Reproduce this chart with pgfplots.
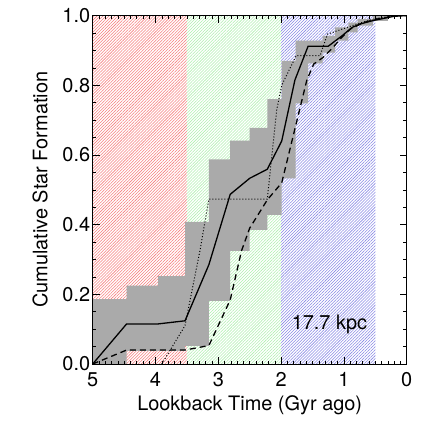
\documentclass[border=0pt]{standalone}
\usepackage{pgfplots}
\pgfplotsset{compat=1.18}
\usepackage{fontspec}
\setmainfont{TeX Gyre Heros}
\usetikzlibrary{patterns.meta}
\definecolor{bandgray}{RGB}{170,170,170}
\definecolor{hred}{RGB}{245,125,125}
\definecolor{hgreen}{RGB}{175,238,175}
\definecolor{hblue}{RGB}{135,135,228}

\begin{document}
\begin{tikzpicture}
\begin{axis}[
  name=ax,
  scale only axis, width=314bp, height=348.4bp,
  xmin=0, xmax=5, ymin=0, ymax=1, x dir=reverse,
  xtick={0,1,2,3,4,5}, ytick={0,0.2,0.4,0.6,0.8,1.0},
  minor x tick num=9, minor y tick num=3,
  tick align=inside, major tick length=7bp, minor tick length=3.5bp,
  tick style={black, line width=0.5pt},
  axis line style={line width=0.8pt},
  font=\fontsize{20}{23}\selectfont,
  /pgf/number format/assume math mode=true,
  yticklabel style={/pgf/number format/fixed, /pgf/number format/fixed zerofill, /pgf/number format/precision=1, xshift=1bp},
  xticklabel style={yshift=-5bp},
  xlabel={Lookback Time (Gyr ago)}, ylabel={Cumulative Star Formation},
  xlabel style={yshift=-2bp},
  ylabel style={yshift=8bp},
  axis on top,
  clip=true,
]
% hatched epochs
\addplot[draw=none, pattern={Lines[angle=45,distance=2.1bp,line width=0.55bp]}, pattern color=hred]
  coordinates {(5,0) (5,1) (3.5,1) (3.5,0)} -- cycle;
\addplot[draw=none, pattern={Lines[angle=45,distance=2.1bp,line width=0.55bp]}, pattern color=hgreen]
  coordinates {(3.5,0) (3.5,1) (2,1) (2,0)} -- cycle;
\addplot[draw=none, pattern={Lines[angle=45,distance=2.1bp,line width=0.55bp]}, pattern color=hblue]
  coordinates {(2,0) (2,1) (0.5,1) (0.5,0)} -- cycle;
% uncertainty band
\addplot[draw=none, fill=bandgray] coordinates {
 (5,0.186)(4.46,0.186)(4.46,0.225)(3.96,0.225)(3.96,0.252)(3.53,0.252)(3.53,0.408)(3.15,0.408)
 (3.15,0.587)(2.81,0.587)(2.81,0.641)(2.50,0.641)(2.50,0.678)(2.22,0.678)(2.22,0.760)(1.99,0.760)
 (1.99,0.870)(1.77,0.870)(1.77,0.928)(1.34,0.928)(1.34,0.942)(1.14,0.942)(1.14,0.966)(0.93,0.966)
 (0.93,0.980)(0.78,0.980)(0.78,0.990)(0.54,0.990)(0.54,1.0)(0,1.0)
 (0.30,1.0)(0.30,0.985)(0.54,0.985)(0.54,0.971)(0.78,0.971)(0.78,0.952)(0.93,0.952)(0.93,0.928)
 (1.14,0.928)(1.14,0.894)(1.34,0.894)(1.34,0.863)(1.57,0.863)(1.57,0.748)(1.77,0.748)(1.77,0.533)
 (1.99,0.533)(1.99,0.428)(2.22,0.428)(2.22,0.385)(2.50,0.385)(2.50,0.325)(2.81,0.325)(2.81,0.181)
 (3.15,0.181)(3.15,0.052)(3.53,0.052)(3.53,0.038)(4.46,0.038)(4.46,0)(5,0)
} -- cycle;
% median
\addplot[black, line width=1.3bp] coordinates {
 (5,0)(4.46,0.115)(3.96,0.115)(3.53,0.124)(3.15,0.285)(2.81,0.487)(2.50,0.533)(2.22,0.559)
 (1.99,0.640)(1.78,0.815)(1.57,0.912)(1.25,0.912)(1.03,0.942)(0.87,0.966)(0.74,0.976)
 (0.53,0.986)(0.42,0.99)(0.2,0.998)(0,1.0)
};
% dashed
\addplot[black, line width=1.3bp, dash pattern=on 6bp off 4bp] coordinates {
 (5,0)(4.46,0.04)(3.53,0.04)(3.15,0.053)(2.81,0.184)(2.63,0.325)(2.50,0.390)(2.22,0.471)
 (1.99,0.52)(1.59,0.815)(1.48,0.861)(1.33,0.88)(1.17,0.909)(1.06,0.933)(0.90,0.961)
 (0.69,0.98)(0.48,0.99)(0.15,1.0)(0,1.0)
};
% dotted
\addplot[black, line width=1bp, dash pattern=on 1bp off 2bp] coordinates {
 (3.90,0)(3.53,0.11)(3.29,0.327)(3.15,0.473)(2.22,0.473)(2.07,0.729)(1.99,0.80)(1.76,0.885)
 (1.38,0.885)(1.26,0.947)(1.03,0.961)(0.79,0.976)(0.53,0.99)(0.2,1.0)(0,1.0)
};
\node at (axis cs:1.23,0.115) {17.7 kpc};
\end{axis}
\pgfresetboundingbox
\path ([xshift=-92.7bp,yshift=-58bp]ax.south west) rectangle ([xshift=15.3bp,yshift=15.6bp]ax.north east);
\end{tikzpicture}
\end{document}
